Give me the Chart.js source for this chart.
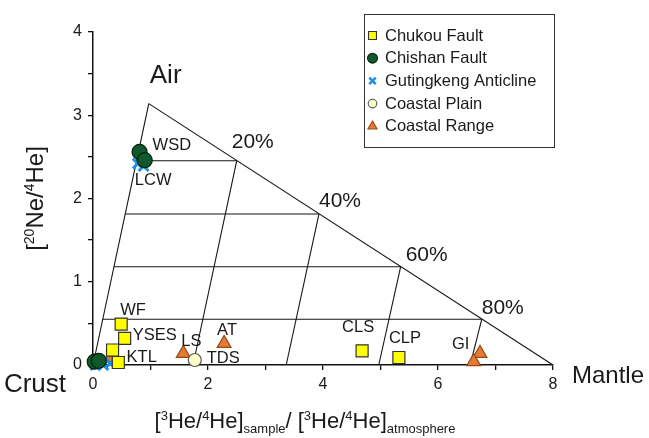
<!DOCTYPE html>
<html>
<head>
<meta charset="utf-8">
<script src="https://cdn.jsdelivr.net/npm/chart.js@4.4.1/dist/chart.umd.min.js"></script>
<style>
  html, body { margin: 0; padding: 0; background: #fff; }
  #wrap { width: 649px; height: 438px; position: relative; }
</style>
</head>
<body>
<div id="wrap"><canvas id="c" width="649" height="438"></canvas></div>
<script>
// ---- sample groups: x = [3He/4He]sample / [3He/4He]air, y = 20Ne/4He ----
const chukouX     = [0.49, 0.55, 0.34, 0.44, 4.68, 5.32];
const chukouY     = [0.49, 0.32, 0.18, 0.03, 0.17, 0.09];
const chishanX    = [0.81, 0.90, 0.03, 0.10];
const chishanY    = [2.56, 2.46, 0.04, 0.05];
const gutingkengX = [0.78, 0.88, 0.04, 0.30, 0.18];
const gutingkengY = [2.42, 2.39, 0.00, 0.02, 0.00];
const plainX      = [1.77];
const plainY      = [0.06];
const rangeX      = [1.57, 2.28, 6.73, 6.62, 0.30];
const rangeY      = [0.14, 0.26, 0.14, 0.04, 0.08];

const seriesNames = ['Chukou Fault', 'Chishan Fault', 'Gutingkeng Anticline', 'Coastal Plain', 'Coastal Range'];

// ---- end-members of the mixing triangle ----
const crustPt  = [0, 0];
const airPt    = [0.97, 3.14];
const mantlePt = [8, 0];

// mantle-fraction grid: level of each horizontal line, where it meets the air-mantle edge,
// and where its slanted companion reaches the crust-mantle base
const levelY      = [2.454, 1.814, 1.18, 0.549];
const levelEdgeX  = [2.50, 3.93, 5.35, 6.76];
const levelBaseX  = [1.74, 3.36, 4.97, 6.56];
const levelLabels = ['20%', '40%', '60%', '80%'];

// axis tick labels
const xTickLabels = [0, 2, 4, 6, 8];
const yTickLabels = [0, 1, 2, 3, 4];

// sample names: [series index, point index, text]
const sampleNames = [
  [1, 0, 'WSD'], [2, 0, 'LCW'], [0, 0, 'WF'], [0, 1, 'YSES'], [0, 2, 'KTL'],
  [4, 0, 'LS'], [4, 1, 'AT'], [3, 0, 'TDS'], [0, 4, 'CLS'], [0, 5, 'CLP'], [4, 2, 'GI']
];

// ---- layout / styling ----
const FONT = "'Liberation Sans', Arial, Helvetica, sans-serif";
const INK = '#1a1a1a';
// pixel offsets of each sample name from its marker (left edge, middle)
const nameOffsets = {
  WSD: [13, -6], LCW: [-3, 17], WF: [-1, -14], YSES: [8, -3], KTL: [14, 7],
  LS: [-2, -12], AT: [-7, -13], TDS: [12, -2], CLS: [-20, -23], CLP: [-10, -19], GI: [-28, -9]
};
const levelOffsets = [[-5, -19], [0, -13], [5, -12], [0, -11]];

const pts = (xs, ys) => xs.map((x, i) => ({ x: x, y: ys[i] }));
const P = (a) => ({ x: a[0], y: a[1] });

const markerStyles = [
  { pointStyle: 'rect',     pointRadius: 8.5, backgroundColor: '#ffff00', borderColor: '#333333', borderWidth: 1.2, order: 1 },
  { pointStyle: 'circle',   pointRadius: 7.5, backgroundColor: '#0f5a2c', borderColor: '#0a1f10', borderWidth: 1.2, order: 2 },
  { pointStyle: 'crossRot', pointRadius: 7,   backgroundColor: '#1e8fe6', borderColor: '#1e8fe6', borderWidth: 3,   order: 3 },
  { pointStyle: 'circle',   pointRadius: 6.5, backgroundColor: '#ffffcc', borderColor: '#555555', borderWidth: 1.2, order: 4 },
  { pointStyle: 'triangle', pointRadius: 8,   backgroundColor: '#e47b35', borderColor: '#9a4a16', borderWidth: 1.2, order: 5 }
];
const seriesData = [
  pts(chukouX, chukouY), pts(chishanX, chishanY), pts(gutingkengX, gutingkengY),
  pts(plainX, plainY), pts(rangeX, rangeY)
];

const datasets = seriesData.map((d, i) => Object.assign({
  label: seriesNames[i], data: d, clip: false, pointHoverRadius: markerStyles[i].pointRadius
}, markerStyles[i]));

// triangle frame and grid lines, drawn beneath the samples
function segment(a, b) {
  return { label: '', data: [P(a), P(b)], showLine: true, borderColor: '#151515', borderWidth: 1.1,
           pointRadius: 0, pointHoverRadius: 0, clip: false, order: 10, fill: false, tension: 0 };
}
datasets.push(segment(crustPt, airPt));
datasets.push(segment(airPt, mantlePt));
levelY.forEach((y, i) => {
  const leftX = airPt[0] * y / airPt[1];          // on the crust-air edge
  datasets.push(segment([leftX, y], [levelEdgeX[i], y]));
  datasets.push(segment([levelEdgeX[i], y], [levelBaseX[i], 0]));
});

// text with super/subscripts; parts = [text, 0 normal | 1 sup | 2 sub]
function richWidth(ctx, parts, big, small) {
  let w = 0;
  parts.forEach(p => { ctx.font = (p[1] ? small : big) + 'px ' + FONT; w += ctx.measureText(p[0]).width; });
  return w;
}
function drawRich(ctx, parts, x, y, big, small) {
  let cx = x;
  parts.forEach(p => {
    ctx.font = (p[1] ? small : big) + 'px ' + FONT;
    const dy = p[1] === 1 ? -big * 0.38 : (p[1] === 2 ? big * 0.22 : 0);
    ctx.fillText(p[0], cx, y + dy);
    cx += ctx.measureText(p[0]).width;
  });
}

function drawMarker(ctx, st, x, y, scale) {
  const r = st.pointRadius * scale;
  ctx.save();
  ctx.fillStyle = st.backgroundColor;
  ctx.strokeStyle = st.borderColor;
  ctx.lineWidth = st.pointStyle === 'crossRot' ? 2.5 : 1.1;
  ctx.beginPath();
  if (st.pointStyle === 'rect') {
    const s = r * Math.SQRT1_2;
    ctx.rect(x - s, y - s, 2 * s, 2 * s);
    ctx.fill(); ctx.stroke();
  } else if (st.pointStyle === 'circle') {
    ctx.arc(x, y, r, 0, Math.PI * 2);
    ctx.fill(); ctx.stroke();
  } else if (st.pointStyle === 'triangle') {
    for (let k = 0; k < 3; k++) {
      const a = k * 2 * Math.PI / 3;
      const px = x + Math.sin(a) * r, py = y - Math.cos(a) * r;
      k ? ctx.lineTo(px, py) : ctx.moveTo(px, py);
    }
    ctx.closePath(); ctx.fill(); ctx.stroke();
  } else {
    const s = r * Math.SQRT1_2;
    ctx.moveTo(x - s, y - s); ctx.lineTo(x + s, y + s);
    ctx.moveTo(x + s, y - s); ctx.lineTo(x - s, y + s);
    ctx.stroke();
  }
  ctx.restore();
}

const annotations = {
  id: 'annotations',
  afterDatasetsDraw(chart) {
    const ctx = chart.ctx;
    const xs = chart.scales.x, ys = chart.scales.y;
    const area = chart.chartArea;
    ctx.save();
    ctx.fillStyle = INK;
    ctx.textBaseline = 'middle';
    ctx.textAlign = 'left';

    // end-member names
    ctx.font = '26px ' + FONT;
    ctx.fillText('Air', xs.getPixelForValue(airPt[0]) + 1, ys.getPixelForValue(airPt[1]) - 28);
    ctx.textAlign = 'right';
    ctx.fillText('Crust', area.left - 27, area.bottom + 20);
    ctx.textAlign = 'left';
    ctx.font = '24px ' + FONT;
    ctx.fillText('Mantle', xs.getPixelForValue(mantlePt[0]) + 19, area.bottom + 11);

    // mantle fraction labels
    ctx.font = '21px ' + FONT;
    levelLabels.forEach((t, i) => {
      ctx.fillText(t, xs.getPixelForValue(levelEdgeX[i]) + levelOffsets[i][0],
                      ys.getPixelForValue(levelY[i]) + levelOffsets[i][1]);
    });

    // sample names next to their markers
    ctx.font = '16.5px ' + FONT;
    sampleNames.forEach(([s, j, t]) => {
      const el = chart.getDatasetMeta(s).data[j];
      const off = nameOffsets[t];
      ctx.fillText(t, el.x + off[0], el.y + off[1]);
    });

    // legend
    ctx.strokeStyle = '#333';
    ctx.lineWidth = 1;
    ctx.strokeRect(364.5, 14.5, 190, 133);
    ctx.font = '16.5px ' + FONT;
    seriesNames.forEach((name, i) => {
      const y = 35.5 + i * 22.7;
      drawMarker(ctx, markerStyles[i], 372.5, y, 0.66);
      ctx.fillStyle = INK;
      ctx.fillText(name, 385, y + 0.5);
    });

    // axis titles
    ctx.textBaseline = 'alphabetic';
    const xt = [['[', 0], ['3', 1], ['He/', 0], ['4', 1], ['He]', 0], ['sample', 2], ['/ [', 0],
                ['3', 1], ['He/', 0], ['4', 1], ['He]', 0], ['atmosphere', 2]];
    const xw = richWidth(ctx, xt, 22, 13);
    drawRich(ctx, xt, 305 - xw / 2, 428, 22, 13);

    const yt = [['[', 0], ['20', 1], ['Ne/', 0], ['4', 1], ['He]', 0]];
    const yw = richWidth(ctx, yt, 24, 14);
    ctx.translate(43, (area.top + area.bottom) / 2);
    ctx.rotate(-Math.PI / 2);
    drawRich(ctx, yt, -yw / 2, 0, 24, 14);
    ctx.restore();
  }
};

Chart.defaults.font.family = FONT;
Chart.defaults.color = INK;

new Chart(document.getElementById('c'), {
  type: 'scatter',
  data: { datasets: datasets },
  options: {
    responsive: false,
    animation: false,
    events: [],
    layout: { padding: { left: 0, right: 96, top: 32, bottom: 0 } },
    plugins: { legend: { display: false }, tooltip: { enabled: false } },
    scales: {
      x: {
        type: 'linear', min: 0, max: 8,
        afterFit: (s) => { s.height = 73; },
        afterBuildTicks: (s) => { s.ticks = [0, 1, 2, 3, 4, 5, 6, 7, 8].map(v => ({ value: v })); },
        ticks: {
          autoSkip: false, maxRotation: 0, padding: 5,
          font: { size: 16 }, color: INK,
          callback: (v) => (xTickLabels.includes(v) ? String(v) : '')
        },
        grid: { drawOnChartArea: false, drawTicks: true, tickLength: 5, color: '#111', lineWidth: 1.3 },
        border: { display: true, color: '#111', width: 1.5 }
      },
      y: {
        type: 'linear', min: 0, max: 4,
        afterFit: (s) => { s.width = 93; },
        afterBuildTicks: (s) => { s.ticks = [0, 0.5, 1, 1.5, 2, 2.5, 3, 3.5, 4].map(v => ({ value: v })); },
        ticks: {
          autoSkip: false, padding: 6,
          font: { size: 16 }, color: INK,
          callback: (v) => (yTickLabels.includes(v) ? String(v) : '')
        },
        grid: { drawOnChartArea: false, drawTicks: true, tickLength: 5, color: '#111', lineWidth: 1.3 },
        border: { display: true, color: '#111', width: 1.5 }
      }
    }
  },
  plugins: [annotations]
});
</script>
</body>
</html>
